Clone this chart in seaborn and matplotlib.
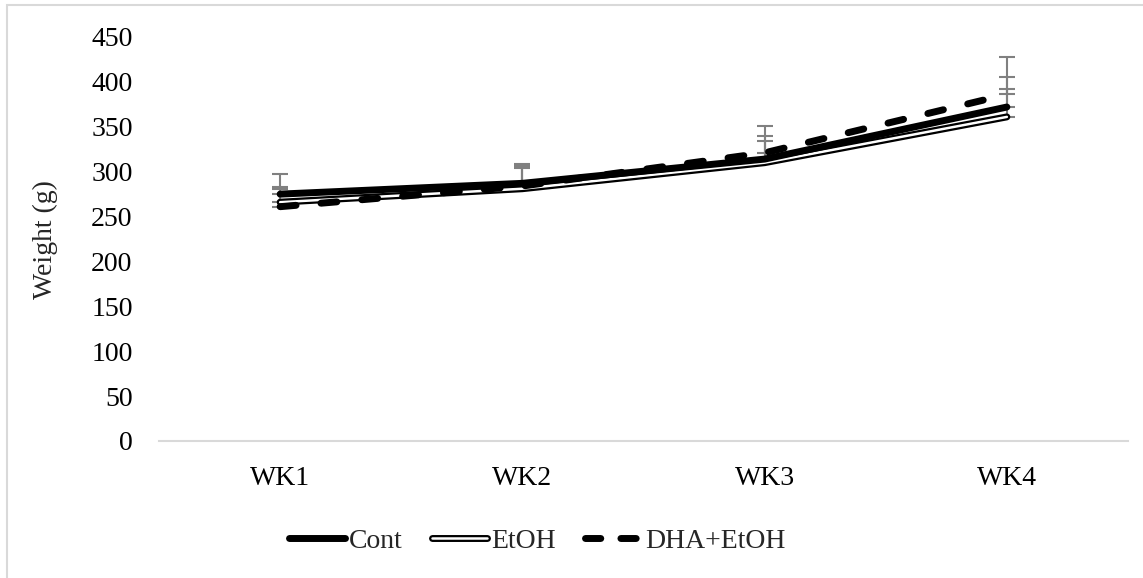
import matplotlib
matplotlib.use("Agg")
import matplotlib.pyplot as plt
from matplotlib.lines import Line2D
from matplotlib.patches import Rectangle
import pandas as pd
import seaborn as sns

weeks = ["WK1", "WK2", "WK3", "WK4"]
cont = [275, 287, 314, 372]
etoh = [266, 281, 310, 361]
dha_etoh = [261, 284, 321, 386]
cont_err = [22, 21, 26, 34]
etoh_err = [17, 23, 24, 31]
dha_etoh_err = [20, 22, 30, 42]

sns.set_theme(style="white")
plt.rcParams["font.family"] = ["Liberation Serif", "DejaVu Serif"]

fig = plt.figure(figsize=(11.43, 5.78), dpi=100)
ax = fig.add_axes([159 / 1143, 1 - 441 / 578, (1128 - 159) / 1143, 404 / 578])

# chart frame like an office chart
fig.patches.append(Rectangle((7 / 1143, -0.1), 1.2, (573 + 58) / 578,
                             transform=fig.transFigure, fill=False,
                             edgecolor="#d9d9d9", linewidth=1.5))

df = pd.DataFrame({"week": weeks, "Cont": cont, "EtOH": etoh,
                   "DHA+EtOH": dha_etoh})
x = list(range(len(weeks)))
grey = "#808080"
dash_line = (0, (2.3, 3.6))
dash_legend = (0, (2.2, 2.9))

# error bars (plus direction only)
for vals, errs in [(cont, cont_err), (etoh, etoh_err), (dha_etoh, dha_etoh_err)]:
    ax.errorbar(x, vals, yerr=[[0] * len(errs), errs], fmt="none",
                ecolor=grey, elinewidth=1.5, capsize=6, capthick=1.5, zorder=1)

sns.lineplot(data=df, x="week", y="EtOH", ax=ax, color="black", lw=5,
             solid_capstyle="round", zorder=3)
sns.lineplot(data=df, x="week", y="EtOH", ax=ax, color="white", lw=1.8,
             solid_capstyle="round", zorder=4)
sns.lineplot(data=df, x="week", y="Cont", ax=ax, color="black", lw=5,
             solid_capstyle="round", zorder=5)
sns.lineplot(data=df, x="week", y="DHA+EtOH", ax=ax, color="black", lw=5,
             dashes=False, zorder=6)
ax.lines[-1].set_linestyle(dash_line)
ax.lines[-1].set_dash_capstyle("round")

ax.set_xlim(-0.5, 3.5)
ax.set_ylim(0, 450)
ax.set_yticks(range(0, 451, 50))
ax.set_xticks(x)
ax.set_xticklabels(weeks)
ax.tick_params(axis="both", labelsize=20, length=0, colors="black")
ax.tick_params(axis="x", pad=18)
ax.tick_params(axis="y", pad=19)
for s in ["top", "right", "left"]:
    ax.spines[s].set_visible(False)
ax.spines["bottom"].set_color("#d9d9d9")
ax.spines["bottom"].set_linewidth(1.5)
ax.set_xlabel("")
ax.set_ylabel("")
fig.text(45 / 1143, 1 - 240 / 578, "Weight (g)", rotation=90, fontsize=20,
         ha="center", va="center")

h_cont = Line2D([], [], color="black", lw=5, solid_capstyle="round")
h_etoh = (Line2D([], [], color="black", lw=5, solid_capstyle="round"),
          Line2D([], [], color="white", lw=1.8, solid_capstyle="round"))
h_dha = Line2D([], [], color="black", lw=5, linestyle=dash_legend,
               dash_capstyle="round")
fig.legend([h_cont, h_etoh, h_dha], ["Cont", "EtOH", "DHA+EtOH"],
           loc="center", bbox_to_anchor=(0.47, 1 - 541 / 578), ncol=3,
           frameon=False, fontsize=20, handlelength=2.0, handletextpad=0.15,
           columnspacing=1.05)

fig.savefig("out.png", dpi=100)
